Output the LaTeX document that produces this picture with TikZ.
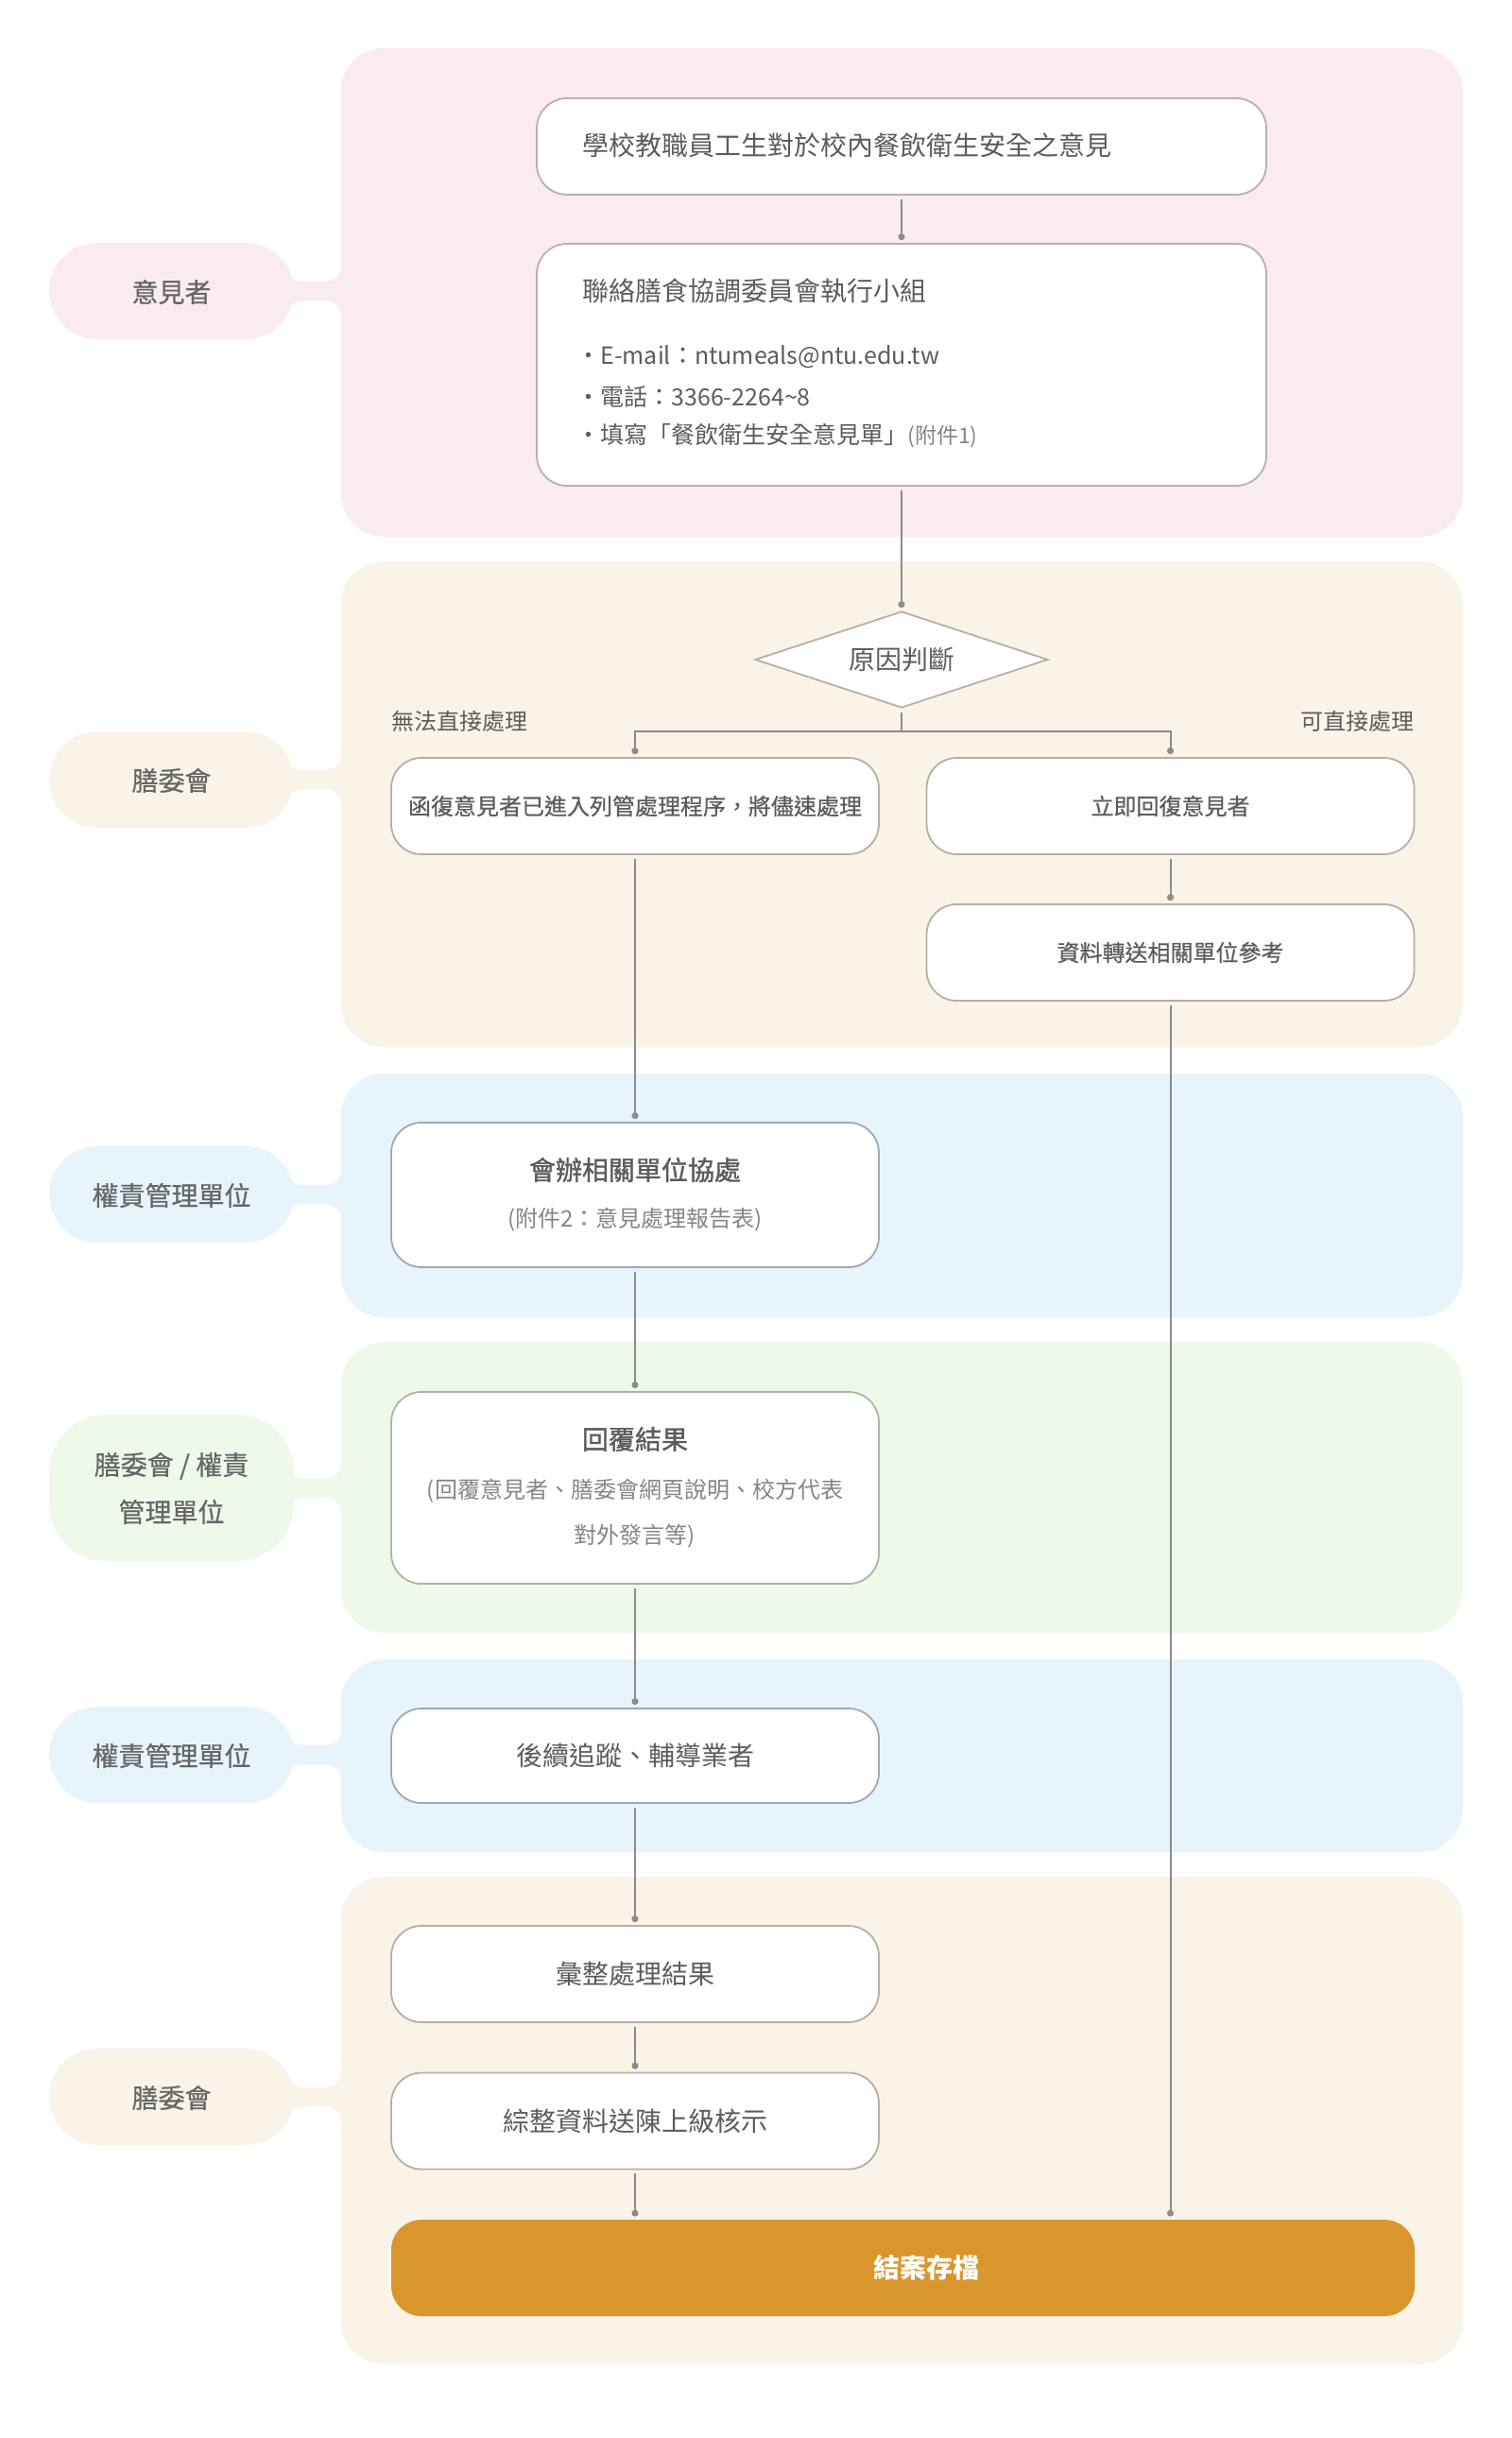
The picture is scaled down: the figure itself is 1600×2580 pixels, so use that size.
\documentclass[tikz,border=0pt]{standalone}
\usepackage{fontspec}
\setmainfont{Noto Sans CJK TC}
\newfontfamily\medfont{Noto Sans CJK TC}[FakeBold=0.6]
\newfontfamily\semifont{Noto Sans CJK TC}[FakeBold=1.4]
\usetikzlibrary{shapes.geometric,arrows.meta}

\definecolor{pinkbg}{HTML}{FAEBF0}
\definecolor{beigebg}{HTML}{FAF3E8}
\definecolor{bluebg}{HTML}{E7F4FB}
\definecolor{greenbg}{HTML}{EEF9EA}
\definecolor{pinkline}{HTML}{BEADAF}
\definecolor{beigeline}{HTML}{B9AEA2}
\definecolor{blueline}{HTML}{9DA9B6}
\definecolor{greenline}{HTML}{A8B89F}
\definecolor{wirec}{HTML}{8C8C8C}
\definecolor{txt}{HTML}{5C5C5C}
\definecolor{lanetxt}{HTML}{666666}
\definecolor{notec}{HTML}{858585}
\definecolor{closefill}{HTML}{D8962C}

% lane label: rounded pill plus a neck joining it to its panel
% #1 colour, #2 centre y, #3 height, #4 corner radius (pt)
\newcommand{\lanepill}[4]{%
  \fill[#1] (295,#2-28) .. controls (305,#2-14) and (312,#2-10) .. (325,#2-10)
    -- (343,#2-10) .. controls (355,#2-10) and (362,#2-18) .. (362,#2-30)
    -- (362,#2+30) .. controls (362,#2+18) and (355,#2+10) .. (343,#2+10)
    -- (325,#2+10) .. controls (312,#2+10) and (305,#2+14) .. (295,#2+28) -- cycle;
  \fill[#1, rounded corners=#4pt] (52,{#2-#3/2}) rectangle (311,{#2+#3/2});
}

\tikzset{
  panel/.style={rounded corners=23pt},
  box/.style={draw, fill=white, line width=0.9pt, rounded corners=16pt,
    inner sep=0pt, text=txt, font=\fontsize{12}{14}\selectfont},
  medbox/.style={font=\fontsize{12}{14}\selectfont\medfont},
  wide/.style={minimum width=386pt},
  narrow/.style={minimum width=258pt},
  lanelabel/.style={text=lanetxt, font=\fontsize{14}{25}\selectfont\medfont, align=center},
  big/.style={font=\fontsize{14}{17}\selectfont},
  bigsemi/.style={font=\fontsize{14}{17}\selectfont\semifont},
  bigbold/.style={font=\fontsize{14}{17}\selectfont\bfseries},
  small/.style={font=\fontsize{12}{14}\selectfont},
  wire/.style={draw=wirec, line width=1pt, shorten <=2pt},
  dot/.style={-{Circle[length=3.5pt]}, shorten >=1.5pt},
}

\begin{document}
\begin{tikzpicture}[x=0.5pt, y=-0.5pt]
\useasboundingbox (0,0) rectangle (1600,2580);

% swimlane panels
\fill[pinkbg, panel]  (360.5,51)   rectangle (1548,568);
\fill[beigebg, panel] (360.5,594)  rectangle (1548,1108);
\fill[bluebg, panel]  (360.5,1136) rectangle (1548,1394);
\fill[greenbg, panel] (360.5,1420) rectangle (1548,1728);
\fill[bluebg, panel]  (360.5,1756) rectangle (1548,1960);
\fill[beigebg, panel] (360.5,1986) rectangle (1548,2502);

% lane labels
\lanepill{pinkbg}{308}{102}{25.5}
\lanepill{beigebg}{825}{102}{25.5}
\lanepill{bluebg}{1264}{102}{25.5}
\lanepill{greenbg}{1574.5}{155}{30}
\lanepill{bluebg}{1857}{102}{25.5}
\lanepill{beigebg}{2219}{102}{25.5}

\node[lanelabel] (lane1) at (181.5,309) {意見者};
\node[lanelabel] (lane2) at (181.5,826) {膳委會};
\node[lanelabel] (lane3) at (181.5,1265) {權責管理單位};
\node[lanelabel] (lane4) at (181.5,1575) {膳委會 / 權責\\管理單位};
\node[lanelabel] (lane5) at (181.5,1858) {權責管理單位};
\node[lanelabel] (lane6) at (181.5,2220) {膳委會};

% opinion source
\node[box, wide, draw=pinkline, minimum height=51pt] (b1) at (954,155) {};
\node[big, text=txt, anchor=west, inner sep=0pt] (b1t) at (616,154)
  {學校教職員工生對於校內餐飲衛生安全之意見};

\node[box, wide, draw=pinkline, minimum height=128pt] (b2) at (954,386) {};
\node[big, text=txt, anchor=west, inner sep=0pt] (b2t) at (616,308)
  {聯絡膳食協調委員會執行小組};
\node[font=\fontsize{12.5}{15}\selectfont, text=txt, anchor=west, inner sep=0pt] (b2a) at (610,378)
  {・E-mail：ntumeals@ntu.edu.tw};
\node[font=\fontsize{12.5}{15}\selectfont, text=txt, anchor=west, inner sep=0pt] (b2b) at (610,420)
  {・電話：3366-2264\textasciitilde 8};
\node[font=\fontsize{12.5}{15}\selectfont, text=txt, anchor=west, inner sep=0pt] (b2c) at (610,461)
  {・填寫「餐飲衛生安全意見單」{\color{notec}\fontsize{11.5}{13}\selectfont(附件1)}};

% decision
\node[draw=beigeline, fill=white, line width=0.9pt, shape=diamond, shape aspect=3,
  inner sep=0pt, minimum width=155pt, minimum height=51pt, text=txt, big] (d) at (954,698) {原因判斷};
\coordinate (split) at (954,774);
\node[small, text=txt, anchor=west, inner sep=0pt] (lblno) at (414,763) {無法直接處理};
\node[small, text=txt, anchor=east, inner sep=0pt] (lblyes) at (1497,763) {可直接處理};

\node[box, narrow, draw=beigeline, minimum height=51pt, medbox] (bA) at (672,853)
  {函復意見者已進入列管處理程序，將儘速處理};
\node[box, narrow, draw=beigeline, minimum height=51pt, medbox] (bB) at (1238.5,853) {立即回復意見者};
\node[box, narrow, draw=beigeline, minimum height=51pt, medbox] (bC) at (1238.5,1008) {資料轉送相關單位參考};

% joint handling
\node[box, narrow, draw=blueline, minimum height=76.5pt] (bD) at (672,1264.5) {};
\node[bigsemi, text=txt, inner sep=0pt] (bDt) at (672,1238) {會辦相關單位協處};
\node[small, text=notec, inner sep=0pt] (bDs) at (672,1291) {(附件2：意見處理報告表)};

% reply
\node[box, narrow, draw=greenline, minimum height=101.5pt] (bE) at (672,1574.5) {};
\node[bigsemi, text=txt, inner sep=0pt] (bEt) at (672,1523) {回覆結果};
\node[small, text=notec, inner sep=0pt] (bEs) at (672,1578) {(回覆意見者、膳委會網頁說明、校方代表};
\node[small, text=notec, inner sep=0pt] (bEu) at (672,1626) {對外發言等)};

% follow-up
\node[box, narrow, draw=blueline, minimum height=50pt, big] (bF) at (672,1858) {後續追蹤、輔導業者};

% closing
\node[box, narrow, draw=beigeline, minimum height=51pt, big] (bG) at (672,2089) {彙整處理結果};
\node[box, narrow, draw=beigeline, minimum height=51pt, big] (bH) at (672,2244.5) {綜整資料送陳上級核示};
\node[fill=closefill, rounded corners=16pt, inner sep=0pt, minimum width=541.5pt,
  minimum height=51pt, text=white, bigbold] (fin) at (955.5,2400) {\hspace*{25pt}結案存檔};

% connectors
\draw[wire, dot] (b1) -- (b2);
\draw[wire, dot] (b2) -- (d);
\draw[wire] (d.south) -- (split);
\draw[wire, dot, shorten <=0pt] (split) -| (bA.north);
\draw[wire, dot, shorten <=0pt] (split) -| (bB.north);
\draw[wire, dot] (bB) -- (bC);
\draw[wire, dot] (bA) -- (bD);
\draw[wire, dot] (bD) -- (bE);
\draw[wire, dot] (bE) -- (bF);
\draw[wire, dot] (bF) -- (bG);
\draw[wire, dot] (bG) -- (bH);
\draw[wire, dot] (bH.south) -- (bH.south |- fin.north);
\draw[wire, dot] (bC.south) -- (bC.south |- fin.north);
\end{tikzpicture}
\end{document}
